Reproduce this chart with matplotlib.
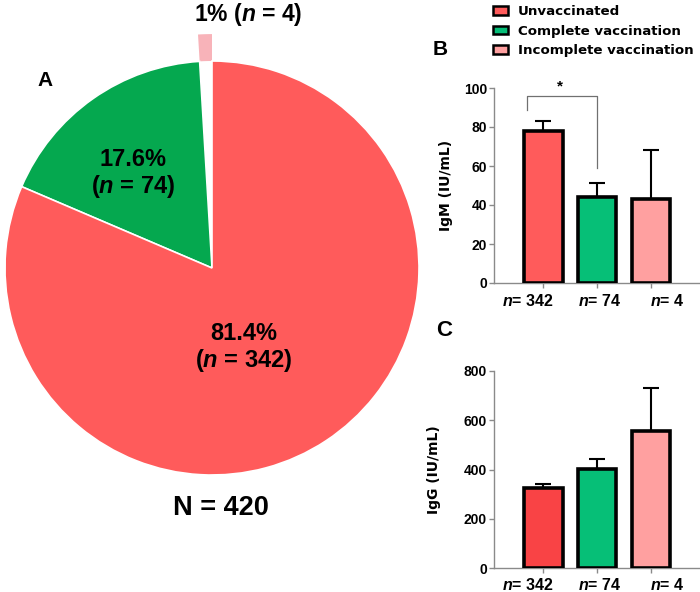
import matplotlib
matplotlib.use("Agg")
import matplotlib.pyplot as plt
import matplotlib.transforms as mtransforms
from matplotlib.patches import Patch
import numpy as np

NUMF = 'Liberation Sans'
TXTF = 'DejaVu Sans'
plt.rcParams['font.family'] = [NUMF, 'DejaVu Sans']
plt.rcParams['mathtext.fontset'] = 'custom'
plt.rcParams['mathtext.rm'] = NUMF + ':bold'
plt.rcParams['mathtext.it'] = NUMF + ':italic:bold'
plt.rcParams['mathtext.bf'] = NUMF + ':bold'

# ---- data ----
groups = ["Unvaccinated", "Complete vaccination", "Incomplete vaccination"]
counts = [342, 74, 4]
pie_pct = ["81.4%", "17.6%", "1%"]
total_n = 420
igm_mean = [78, 44, 43]
igm_err = [5, 7.5, 25]
igg_mean = [325, 402, 556]
igg_err = [18, 40, 175]
tick_labels = [r"$\mathit{n}$= 342", r"$\mathit{n}$= 74", r"$\mathit{n}$= 4"]

pie_colors = ["#FF5B5B", "#05A84F", "#F8B3B9"]
legend_colors = ["#FF5B5B", "#06BE78", "#FFA0A0"]
igm_colors = ["#FF5B5B", "#06BF77", "#FFA0A0"]
igg_colors = ["#F94345", "#06BF77", "#FFA0A0"]

W, H = 700, 592
fig = plt.figure(figsize=(7, 5.92), dpi=100)

# ---- pie (A) ----
axp = fig.add_axes([0, 0, 430 / W, 1])
cx, cy, R = 212, 268, 207
vals = [counts[2], counts[1], counts[0]]
cols = [pie_colors[2], pie_colors[1], pie_colors[0]]
wedges, _ = axp.pie(vals, colors=cols, startangle=90, counterclock=True,
                    wedgeprops=dict(edgecolor="white", linewidth=1.2))
wedges[0].set_radius(1.13)
wedges[0].set_width(0.13)
wedges[0].set_edgecolor("none")
axp.set_aspect('auto')
axp.set_xlim((0 - cx) / R, (430 - cx) / R)
axp.set_ylim((cy - 592) / R, (cy - 0) / R)
axp.axis('off')

def px(x, y):
    return ((x - cx) / R, (cy - y) / R)

axp.text(*px(133, 174), pie_pct[1] + "\n(" + r"$\mathit{n}$" + " = %d)" % counts[1],
         ha='center', va='center', fontsize=17, fontweight='bold', linespacing=1.05)
axp.text(*px(244, 348), pie_pct[0] + "\n(" + r"$\mathit{n}$" + " = %d)" % counts[0],
         ha='center', va='center', fontsize=17, fontweight='bold', linespacing=1.05)
axp.text(*px(248, 15), pie_pct[2] + " (" + r"$\mathit{n}$" + " = %d)" % counts[2],
         ha='center', va='center', fontsize=16.5, fontweight='bold')
axp.text(*px(221, 508), "N = %d" % total_n, ha='center', va='center',
         fontsize=19.5, fontweight='bold')
fig.text(45 / W, 1 - 80 / H, "A", ha='center', va='center', fontsize=15, fontweight='bold')

label_dx = [-15, 3, 16]

# ---- bar panels ----
def bar_panel(rect, means, errs, colors, ylim, yticks, ylabel, ylab_x):
    ax = fig.add_axes(rect)
    x = np.arange(len(means))
    ax.bar(x, means, width=0.72, color=colors, edgecolor='black', linewidth=2.6, zorder=3)
    ax.errorbar(x, means, yerr=[np.zeros(len(errs)), errs], fmt='none',
                ecolor='black', elinewidth=1.5, capsize=6, capthick=1.5, zorder=2)
    ax.set_xlim(-0.91, 2.89)
    ax.set_ylim(*ylim)
    ax.set_yticks(yticks)
    ax.set_xticks(x)
    ax.set_xticklabels([])
    base = ax.get_xaxis_transform()
    for xi, lab, dx in zip(x, tick_labels, label_dx):
        tr = base + mtransforms.ScaledTranslation(dx / 100, -22.5 / 100, fig.dpi_scale_trans)
        ax.text(xi, 0, lab, transform=tr, ha='center', va='baseline',
                fontsize=11.5, fontweight='bold')
    for s in ['top', 'right']:
        ax.spines[s].set_visible(False)
    for s in ['left', 'bottom']:
        ax.spines[s].set_color('#8a8a8a')
        ax.spines[s].set_linewidth(1.0)
    ax.tick_params(axis='both', colors='#8a8a8a', labelcolor='black', length=3.6, width=1)
    ax.tick_params(axis='y', pad=1.5)
    for lab in ax.get_yticklabels():
        lab.set_fontweight('bold')
        lab.set_fontsize(10)
    ax.set_ylabel(ylabel, fontsize=10, fontweight='bold', family=TXTF)
    ax.yaxis.set_label_coords(ylab_x, 0.5)
    return ax

axB = bar_panel([494 / W, 1 - 283 / H, 205 / W, 195 / H], igm_mean, igm_err, igm_colors,
                (0, 100), [0, 20, 40, 60, 80, 100], "IgM (IU/mL)", -0.2)
axC = bar_panel([494 / W, 1 - 568 / H, 205 / W, 197 / H], igg_mean, igg_err, igg_colors,
                (0, 800), [0, 200, 400, 600, 800], "IgG (IU/mL)", -0.26)

# significance bracket on B
axB.plot([-0.3, -0.3, 1.0, 1.0], [88.5, 96, 96, 59], color='#707070', lw=0.9,
         clip_on=False, zorder=4)
axB.text(0.32, 97, "*", ha='center', va='bottom', fontsize=11, fontweight='bold')

fig.text(440 / W, 1 - 49.5 / H, "B", ha='center', va='center', fontsize=15, fontweight='bold')
fig.text(444 / W, 1 - 330 / H, "C", ha='center', va='center', fontsize=16, fontweight='bold')

handles = [Patch(facecolor=c, edgecolor='black', linewidth=1.8) for c in legend_colors]
fig.legend(handles, groups, loc='upper left', bbox_to_anchor=(481 / W, 1 + 7 / H),
           frameon=False, handlelength=1.1, handleheight=0.6,
           handletextpad=0.75, labelspacing=0.5,
           prop={'weight': 'bold', 'size': 9.6, 'family': TXTF})

fig.savefig("out.png", dpi=100)
